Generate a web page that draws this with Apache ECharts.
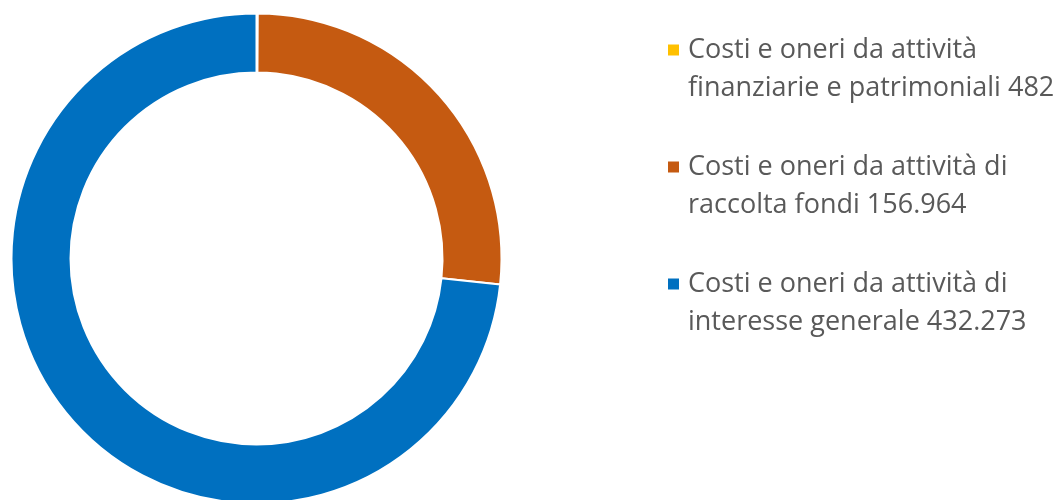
<!DOCTYPE html>
<html>
<head>
<meta charset="utf-8">
<script src="https://cdn.jsdelivr.net/npm/echarts@6/dist/echarts.min.js"></script>
<style>html,body{margin:0;padding:0;background:#fff;}#c{width:1061px;height:500px;}</style>
</head>
<body>
<div id="c"></div>
<script>
const categories = [
  "Costi e oneri da attività\nfinanziarie e patrimoniali",
  "Costi e oneri da attività di\nraccolta fondi",
  "Costi e oneri da attività di\ninteresse generale"
];
const values = [482, 156964, 432273];
const valueLabels = ["482", "156.964", "432.273"];
const colors = ["#FFC000", "#C55A11", "#0070C0"];

const chart = echarts.init(document.getElementById('c'), null, {renderer: 'canvas'});
const data = categories.map((c, i) => ({name: c, value: values[i], itemStyle: {color: colors[i]}}));
chart.setOption({
  backgroundColor: '#ffffff',
  animation: false,
  legend: {
    orient: 'vertical',
    left: 666,
    top: -7,
    padding: 0,
    itemWidth: 13,
    itemHeight: 13,
    itemGap: 3,
    icon: 'rect',
    data: categories,
    formatter: function (name) {
      const i = categories.indexOf(name);
      const lines = (name + ' ' + valueLabels[i]).split('\n');
      return '{e|}\n' + lines.map(l => '{t|' + l + '}').join('\n');
    },
    textStyle: {
      fontFamily: 'Open Sans',
      fontSize: 27,
      color: '#595959',
      lineHeight: 38,
      rich: {
        e: {height: 38, lineHeight: 38},
        t: {fontFamily: 'Open Sans', fontSize: 27, color: '#595959', lineHeight: 38, padding: [0, 0, 0, 3]}
      }
    }
  },
  series: [{
    type: 'pie',
    center: [256.5, 258.5],
    radius: [186, 245],
    startAngle: 90,
    clockwise: true,
    label: {show: false},
    labelLine: {show: false},
    itemStyle: {borderColor: '#ffffff', borderWidth: 2},
    emphasis: {disabled: true},
    data: data
  }]
});
</script>
</body>
</html>
